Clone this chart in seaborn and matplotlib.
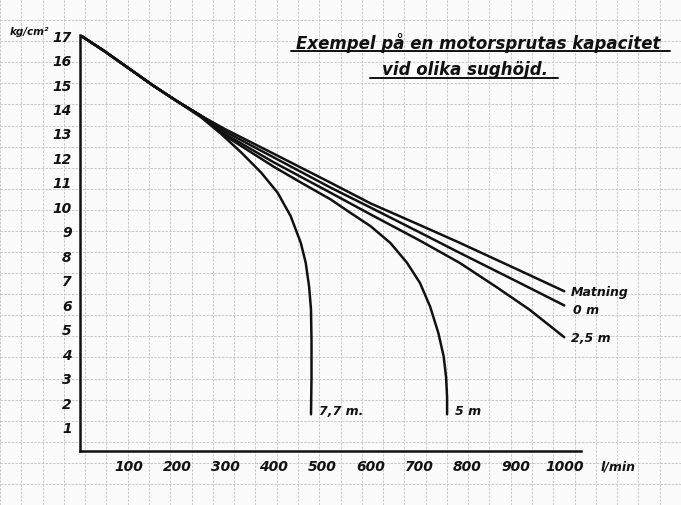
import matplotlib
matplotlib.use("Agg")
import matplotlib.pyplot as plt
from matplotlib.lines import Line2D
import numpy as np
import pandas as pd
import seaborn as sns

# Values (flow l/min, pressure kg/cm2)
shared_x = [0, 50, 100, 150, 200, 250]
shared_y = [17.0, 16.35, 15.65, 14.95, 14.3, 13.7]

matning_x = shared_x + [300, 400, 517, 600, 700, 784, 900, 1000]
matning_y = shared_y + [13.15, 12.15, 10.97, 10.12, 9.25, 8.51, 7.45, 6.53]

m0_x = shared_x + [300, 400, 517, 600, 700, 784, 900, 1000]
m0_y = shared_y + [13.05, 12.0, 10.77, 9.95, 8.95, 8.1, 6.95, 5.95]

m25_x = shared_x + [300, 400, 517, 600, 700, 784, 860, 928, 1000]
m25_y = shared_y + [12.95, 11.8, 10.56, 9.67, 8.62, 7.69, 6.7, 5.78, 4.65]

m5_x = shared_x + [300, 400, 460, 517, 558, 600, 641, 675, 702, 723, 740, 751, 756, 758, 758]
m5_y = shared_y + [12.88, 11.62, 10.93, 10.29, 9.74, 9.19, 8.5, 7.7, 6.87, 5.9, 4.82, 3.86, 3.0, 2.2, 1.5]

m77_x = shared_x[:5] + [250, 292, 333, 374, 408, 435, 456, 466, 473, 477, 478, 478, 477]
m77_y = shared_y[:5] + [13.64, 12.95, 12.2, 11.38, 10.56, 9.6, 8.5, 7.7, 6.73, 5.78, 4.5, 3.0, 1.5]

series_names = ["Matning", "0 m", "2,5 m", "5 m", "7,7 m."]
x_ticks = [100, 200, 300, 400, 500, 600, 700, 800, 900, 1000]
y_ticks = list(range(1, 18))

frames = []
for name, xs, ys in zip(series_names,
                        [matning_x, m0_x, m25_x, m5_x, m77_x],
                        [matning_y, m0_y, m25_y, m5_y, m77_y]):
    frames.append(pd.DataFrame({"flow": xs, "pressure": ys, "curve": name}))
df = pd.concat(frames, ignore_index=True)

sns.set_theme(style="white")
plt.rcParams["font.family"] = ["DejaVu Sans"]

fig = plt.figure(figsize=(6.81, 5.06), dpi=100)
fig.patch.set_facecolor("#fbfbfb")

left, bottom, width, height = 0.1175, 0.1067, 0.736, 0.822
xmax, ymax = 1035, 17

# Graph-paper background spanning the whole sheet
bg = fig.add_axes([0, 0, 1, 1], zorder=0)
bx0 = -left / width * xmax
bx1 = xmax + (1 - left - width) / width * xmax
by0 = -bottom / height * ymax
by1 = ymax + (1 - bottom - height) / height * ymax
bg.set_xlim(bx0, bx1)
bg.set_ylim(by0, by1)
bg.set_xticks(np.arange(-200, 1450, 50))
bg.set_yticks(np.arange(-3, 22, 1))
bg.grid(True, color="#c2c2c2", linewidth=0.6, linestyle=(0, (3, 1.5)))
bg.tick_params(length=0, labelbottom=False, labelleft=False)
bg.set_facecolor("#fbfbfb")
for s in bg.spines.values():
    s.set_visible(False)

ax = fig.add_axes([left, bottom, width, height], zorder=1)
ax.set_facecolor("none")
sns.lineplot(data=df, x="flow", y="pressure", hue="curve", units="curve",
             estimator=None, sort=False, palette=["#111111"] * 5,
             linewidth=1.8, legend=False, ax=ax)

ax.set_xlim(0, xmax)
ax.set_ylim(0, ymax)
ax.set_xticks(x_ticks)
ax.set_yticks(y_ticks)
ax.set_xticklabels([str(v) for v in x_ticks], fontsize=10, style="italic", fontweight="bold")
ax.set_yticklabels([str(v) for v in y_ticks], fontsize=10, style="italic", fontweight="bold")
ax.tick_params(axis="y", length=0, pad=6, colors="#111111")
ax.tick_params(axis="x", length=0, pad=6, colors="#111111")
ax.set_xlabel("")
ax.set_ylabel("")
for side in ["top", "right"]:
    ax.spines[side].set_visible(False)
for side in ["left", "bottom"]:
    ax.spines[side].set_color("#111111")
    ax.spines[side].set_linewidth(1.8)

# End labels of the curves
end_labels = {"Matning": (5, 0), "0 m": (6, -3), "2,5 m": (5, 0)}
for name, (dx, dy) in end_labels.items():
    sub = df[df["curve"] == name].iloc[-1]
    ax.annotate(name, (sub["flow"], sub["pressure"]), xytext=(dx, dy),
                textcoords="offset points", fontsize=9, style="italic",
                fontweight="bold", ha="left", va="center", color="#111111")
for name in ["5 m", "7,7 m."]:
    sub = df[df["curve"] == name].iloc[-1]
    ax.annotate(name, (sub["flow"], sub["pressure"]), xytext=(6, 3),
                textcoords="offset points", fontsize=9, style="italic",
                fontweight="bold", ha="left", va="center", color="#111111")

# Units
fig.text(0.014, 0.936, "kg/cm²", fontsize=7.5, style="italic", fontweight="bold",
         ha="left", va="center", color="#111111")
fig.text(0.882, 0.077, "l/min", fontsize=9, style="italic", fontweight="bold",
         ha="left", va="center", color="#111111")

# Title, underlined
fig.text(0.702, 0.915, "Exempel på en motorsprutas kapacitet", fontsize=12,
         style="italic", fontweight="bold", ha="center", va="center", color="#111111")
fig.text(0.683, 0.862, "vid olika sughöjd.", fontsize=12,
         style="italic", fontweight="bold", ha="center", va="center", color="#111111")
fig.add_artist(Line2D([0.428, 0.984], [0.897, 0.897], color="#111111", linewidth=1.4))
fig.add_artist(Line2D([0.543, 0.82], [0.844, 0.844], color="#111111", linewidth=1.4))

fig.savefig("out.png", dpi=100, facecolor=fig.get_facecolor())
